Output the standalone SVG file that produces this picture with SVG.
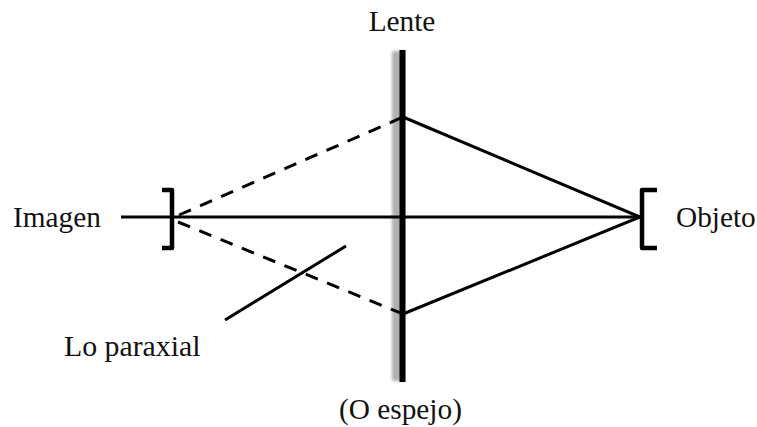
<svg xmlns="http://www.w3.org/2000/svg" width="757" height="427" viewBox="0 0 757 427">
<style>
text{font-family:"Liberation Serif","Times New Roman",serif;font-size:29.300px;fill:#111}
.l{fill:none;stroke:#000;stroke-width:3}
.d{stroke-dasharray:13 10}
.b{fill:none;stroke:#000;stroke-width:4.5;stroke-linejoin:round}
</style>
<defs>
<filter id="bl" x="-100%" y="-5%" width="300%" height="110%"><feGaussianBlur stdDeviation="1.800"/></filter>
</defs>
<rect width="757" height="427" fill="#fff"/>
<g id="lens">
<rect x="392" y="51" width="12" height="330" fill="#b0b0b0" filter="url(#bl)"/>
<rect x="399.500" y="50" width="6" height="332" fill="#000"/>
</g>
<g id="connectors">
<path class="l" d="M121 217H640"/>
<path class="l" d="M403 117L640 217L403 314"/>
<path class="l d" d="M179 215L403 117"/>
<path class="l d" d="M178 222L403 314"/>
<path class="l" d="M225 320L346 246"/>
</g>
<g id="image-bracket"><path class="b" d="M162 190H172V248H162"/></g>
<g id="object-bracket"><path class="b" d="M657 190H642V248H657"/></g>
<g id="label-lente"><text x="402" y="31" text-anchor="middle">Lente</text></g>
<g id="label-imagen"><text x="13" y="226.500">Imagen</text></g>
<g id="label-objeto"><text x="676" y="226.500">Objeto</text></g>
<g id="label-paraxial"><text x="64" y="355.500" style="font-size:29.800px">Lo paraxial</text></g>
<g id="label-espejo"><text x="400.500" y="419" text-anchor="middle">(O espejo)</text></g>
</svg>
